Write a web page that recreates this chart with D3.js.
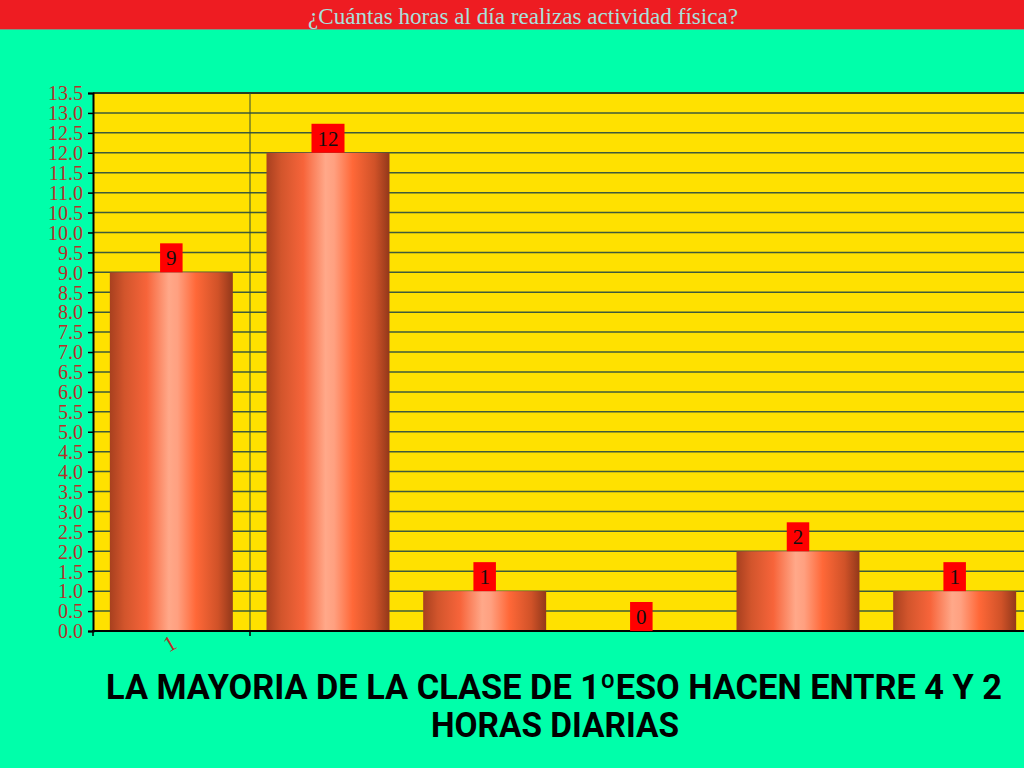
<!DOCTYPE html>
<html>
<head>
<meta charset="utf-8">
<script src="https://cdn.jsdelivr.net/npm/d3@7"></script>
<style>
html,body{margin:0;padding:0;background:#00ffaa;}
svg{display:block;}
</style>
</head>
<body>
<svg id="chart" width="1024" height="768"></svg>
<script>
const title = "¿Cuántas horas al día realizas actividad física?";
const categories = ["1"];
const seriesNames = ["S1", "S2", "S3", "S4", "S5", "S6"];
const seriesValues = [9, 12, 1, 0, 2, 1];
const yTicks = d3.range(0, 13.51, 0.5);
const footerLines = ["LA MAYORIA DE LA CLASE DE 1ºESO HACEN ENTRE 4 Y 2", "HORAS DIARIAS"];

const svg = d3.select("#chart");
const W = 1024, H = 768;
const plot = {left: 93, top: 93, right: 1024, bottom: 631};

// background
svg.append("rect").attr("width", W).attr("height", H).attr("fill", "#00ffaa");
// title band
svg.append("rect").attr("x", 0).attr("y", 0).attr("width", W).attr("height", 29).attr("fill", "#ee1c22");
svg.append("line").attr("x1", 0).attr("x2", W).attr("y1", 29.5).attr("y2", 29.5).attr("stroke", "#7a9a88").attr("stroke-width", 1);
svg.append("text").attr("x", 523).attr("y", 24)
  .attr("text-anchor", "middle")
  .attr("font-family", "Liberation Serif, serif")
  .attr("font-size", 23)
  .attr("fill", "#a8e0dc")
  .attr("textLength", 430).attr("lengthAdjust", "spacingAndGlyphs")
  .text(title);

// scales
const y = d3.scaleLinear().domain([0, 13.5]).range([plot.bottom, plot.top]);
const xCat = d3.scaleBand().domain(categories).range([plot.left, 250]);
const xSer = d3.scaleBand().domain(seriesNames).range([plot.left, plot.left + 940])
  .paddingInner(0.215).paddingOuter(0.1075);

// plot area
svg.append("rect").attr("x", plot.left).attr("y", plot.top)
  .attr("width", plot.right - plot.left).attr("height", plot.bottom - plot.top)
  .attr("fill", "#ffe100");

// horizontal gridlines
svg.append("g").selectAll("line").data(yTicks.filter(d => d > 0)).join("line")
  .attr("x1", plot.left).attr("x2", plot.right)
  .attr("y1", d => y(d)).attr("y2", d => y(d))
  .attr("stroke", d => d === 13.5 ? "#2a3a20" : "#3d5a3a")
  .attr("stroke-width", d => d === 13.5 ? 2 : 1.5);

// vertical gridline at category boundary
svg.append("line")
  .attr("x1", xCat.range()[1]).attr("x2", xCat.range()[1])
  .attr("y1", plot.top).attr("y2", plot.bottom)
  .attr("stroke", "#2f4a3a").attr("stroke-width", 1);

// gradient
const defs = svg.append("defs");
const grad = defs.append("linearGradient").attr("id", "barGrad")
  .attr("x1", "0%").attr("x2", "100%").attr("y1", "0%").attr("y2", "0%");
[[0, "#a8401f"], [0.12, "#d2552c"], [0.3, "#f7643a"], [0.48, "#ffa889"], [0.55, "#ffa080"], [0.7, "#ff6838"], [0.88, "#d05228"], [1, "#92381a"]]
  .forEach(([o, c]) => grad.append("stop").attr("offset", o).attr("stop-color", c));

// bars
svg.append("g").selectAll("rect").data(seriesValues).join("rect")
  .attr("x", (d, i) => xSer(seriesNames[i]))
  .attr("width", xSer.bandwidth())
  .attr("y", d => y(d))
  .attr("height", d => y(0) - y(d))
  .attr("fill", "url(#barGrad)");

// axes
const yAxis = d3.axisLeft(y).tickValues(yTicks).tickFormat(d3.format(".1f")).tickSize(5).tickPadding(5);
const gy = svg.append("g").attr("transform", `translate(${plot.left},0)`).call(yAxis);
gy.select(".domain").attr("stroke", "#000").attr("stroke-width", 2);
gy.selectAll(".tick line").attr("stroke", "#000").attr("stroke-width", 1.5);
gy.selectAll(".tick text")
  .attr("font-family", "Liberation Serif, serif")
  .attr("font-size", 20)
  .attr("fill", "#b8302a")
  .attr("dy", "0.34em");

const xAxis = d3.axisBottom(xCat).tickSize(0).tickPadding(0);
const gx = svg.append("g").attr("transform", `translate(0,${plot.bottom})`).call(xAxis);
gx.select(".domain").remove();
svg.append("line").attr("x1", plot.left - 1).attr("x2", plot.right).attr("y1", plot.bottom).attr("y2", plot.bottom)
  .attr("stroke", "#000").attr("stroke-width", 2);
// category boundary ticks
svg.append("g").selectAll("line").data(xCat.range()).join("line")
  .attr("x1", d => d).attr("x2", d => d)
  .attr("y1", plot.bottom).attr("y2", plot.bottom + 5)
  .attr("stroke", "#000").attr("stroke-width", 1.5);
gx.selectAll(".tick text")
  .attr("font-family", "Liberation Serif, serif")
  .attr("font-size", 22)
  .attr("fill", "#b8302a")
  .attr("text-anchor", "middle")
  .attr("dy", 0)
  .attr("transform", `translate(2,19) rotate(-30)`)
  .attr("y", 0);
gx.selectAll(".tick").attr("transform", d => `translate(${xCat(d) + xCat.bandwidth() / 2},0)`);

// value labels
const lab = svg.append("g").selectAll("g").data(seriesValues).join("g")
  .attr("transform", (d, i) => `translate(${xSer(seriesNames[i]) + xSer.bandwidth() / 2},${y(d)})`);
lab.append("text")
  .attr("font-family", "Liberation Serif, serif")
  .attr("font-size", 21)
  .attr("fill", "#111")
  .attr("text-anchor", "middle")
  .attr("y", -7)
  .text(d => d)
  .each(function () {
    const bb = this.getBBox();
    d3.select(this.parentNode).insert("rect", "text")
      .attr("x", -bb.width / 2 - 6).attr("width", bb.width + 12)
      .attr("y", -29).attr("height", 29)
      .attr("fill", "#ff0000");
  });

// footer
svg.append("g").selectAll("text").data(footerLines).join("text")
  .attr("x", (d, i) => i === 0 ? 554 : 555)
  .attr("y", (d, i) => 699 + i * 38)
  .attr("text-anchor", "middle")
  .attr("font-family", "Roboto, 'Open Sans', sans-serif")
  .attr("font-weight", "bold")
  .attr("font-size", 35)
  .attr("fill", "#000")
  .attr("textLength", (d, i) => i === 0 ? 896 : 248)
  .attr("lengthAdjust", "spacingAndGlyphs")
  .text(d => d);
</script>
</body>
</html>
